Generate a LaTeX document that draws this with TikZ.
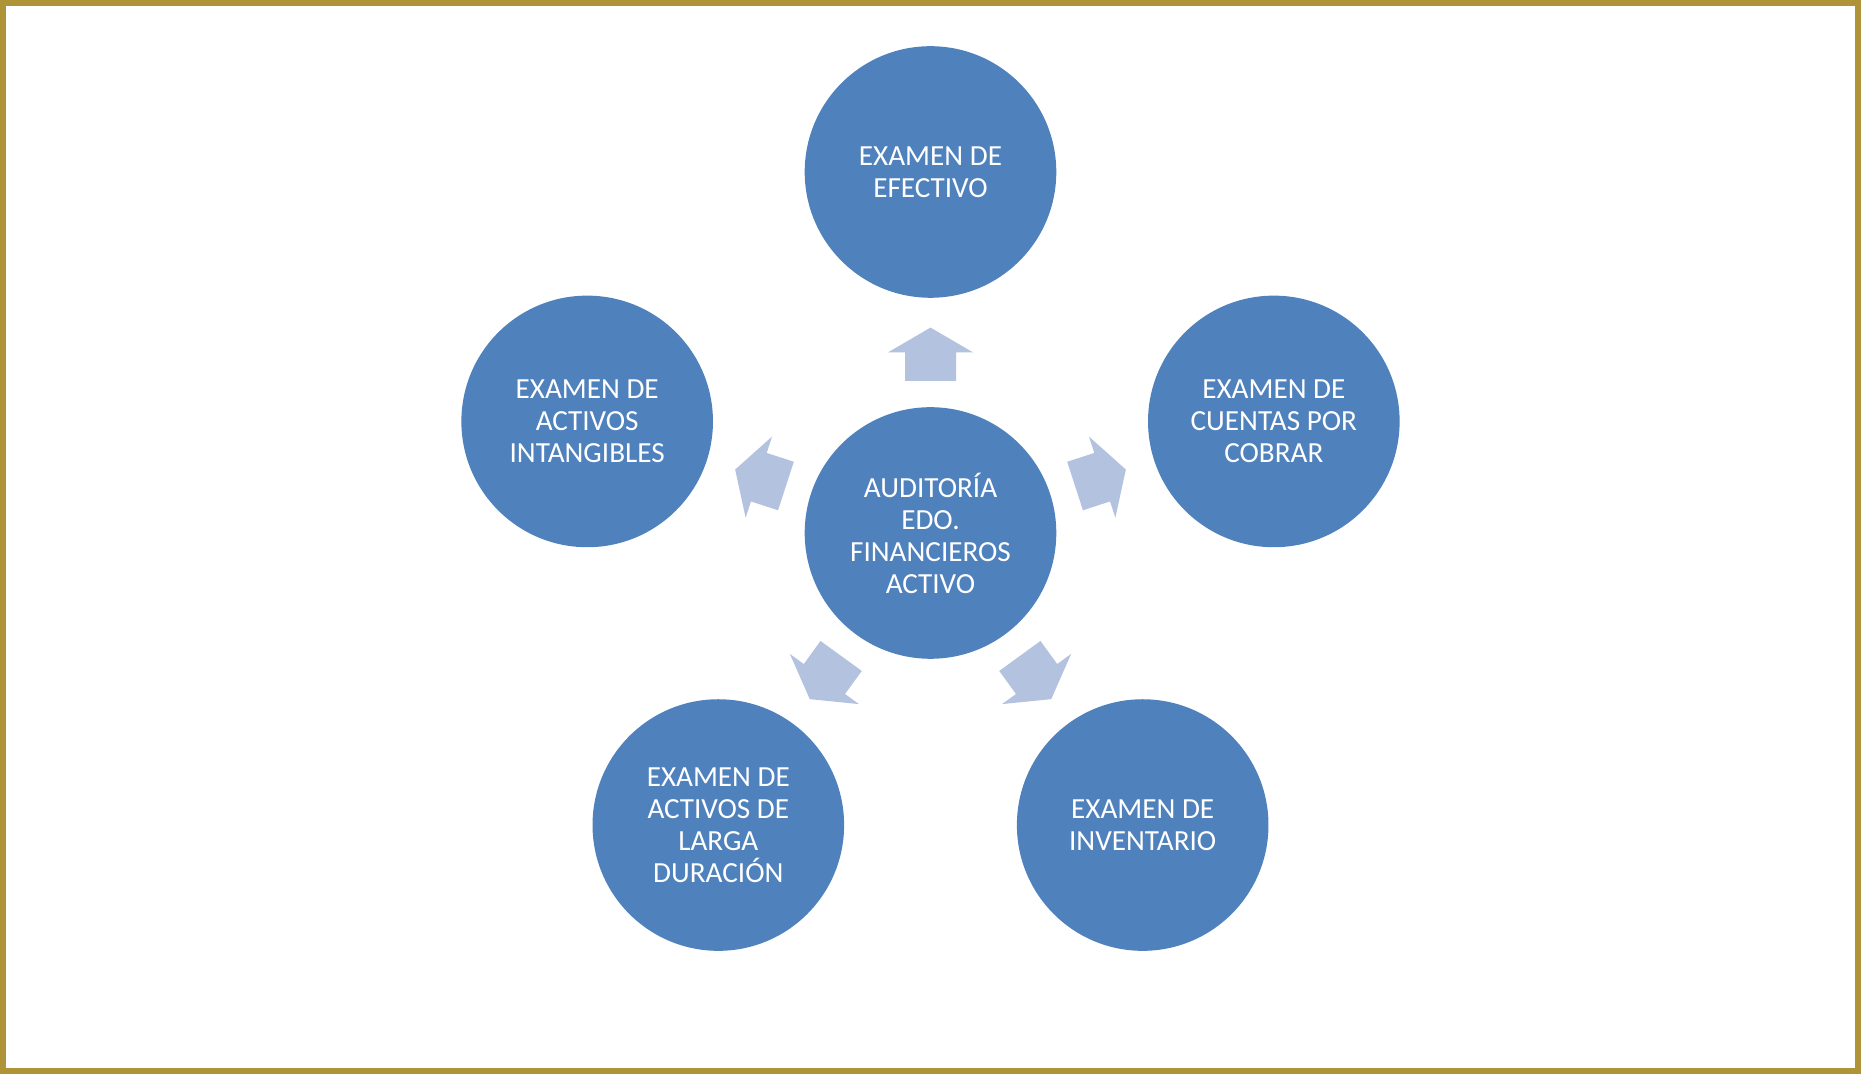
\documentclass[tikz,border=0pt]{standalone}
\usepackage{fontspec}
\setmainfont{Carlito}
\usetikzlibrary{calc}
\definecolor{frameGold}{RGB}{174,148,54}
\definecolor{circBlue}{RGB}{79,129,189}
\definecolor{arrBlue}{RGB}{179,195,223}
\def\Cx{9.305}
\def\Cy{5.41}
\def\Dist{3.61}
\def\ShaftIn{1.52}
\def\HeadBase{1.805}
\def\Tip{2.054}
\def\ShaftW{0.255}
\def\HeadW{0.427}

\begin{document}
\begin{tikzpicture}[
  bubble/.style={circle, fill=circBlue, minimum size=2.516cm, inner sep=0pt,
    text=white, align=center, font=\fontsize{8.3}{9.1}\selectfont}]
\useasboundingbox (0,0) rectangle (18.61,10.74);
\draw[frameGold, line width=0.06cm] (0.03,0.03) rectangle (18.58,10.71);

\node[bubble] (c) at (\Cx, \Cy) {AUDITORÍA\\EDO.\\FINANCIEROS\\ACTIVO};

\foreach \a in {90,18,-54,-126,162}{
  \begin{scope}[shift={(c.center)}, rotate=\a]
    \fill[arrBlue] (\ShaftIn, -\ShaftW) -- (\HeadBase, -\ShaftW) -- (\HeadBase, -\HeadW)
      -- (\Tip, 0) -- (\HeadBase, \HeadW) -- (\HeadBase, \ShaftW) -- (\ShaftIn, \ShaftW) -- cycle;
  \end{scope}
}

\node[bubble] (efec) at ($(c)+(90:\Dist)$) {EXAMEN DE\\EFECTIVO};
\node[bubble] (cxc) at ($(c)+(18:\Dist)$) {EXAMEN DE\\CUENTAS POR\\COBRAR};
\node[bubble] (inv) at ($(c)+(-54:\Dist)$) {EXAMEN DE\\INVENTARIO};
\node[bubble] (larga) at ($(c)+(-126:\Dist)$) {EXAMEN DE\\ACTIVOS DE\\LARGA\\DURACIÓN};
\node[bubble] (intang) at ($(c)+(162:\Dist)$) {EXAMEN DE\\ACTIVOS\\INTANGIBLES};
\end{tikzpicture}
\end{document}
